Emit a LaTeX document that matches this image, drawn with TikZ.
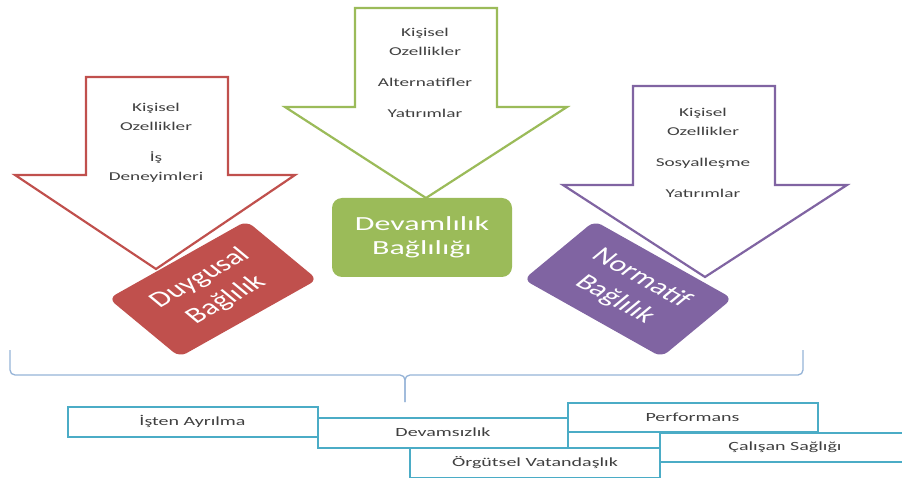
\documentclass[tikz,border=0pt]{standalone}
\usepackage{fontspec}
\setmainfont[FakeStretch=1.6]{Carlito}
\newfontfamily\plainfont{Carlito}
\usetikzlibrary{positioning}

\definecolor{duyred}{HTML}{C0504D}
\definecolor{devgreen}{HTML}{9BBB59}
\definecolor{normpurple}{HTML}{8064A2}
\definecolor{outcyan}{HTML}{4BACC6}
\definecolor{bracecol}{HTML}{95B3D7}
\definecolor{textgray}{HTML}{404040}

\tikzset{
  arrowshape/.style={line width=2.2pt, fill=white, line join=miter},
  arrowtext/.style={align=center, text=textgray, font=\fontsize{12}{19}\selectfont},
  bigbox/.style={rounded corners=10pt, text=white, align=center, inner sep=0pt,
    font=\fontsize{20}{24}\selectfont},
  tiltbox/.style={rounded corners=8pt, text=white, align=center, inner sep=0pt,
    minimum width=122pt, minimum height=76pt, transform shape,
    font=\plainfont\fontsize{22}{28}\selectfont},
  outbox/.style={draw=outcyan, line width=2pt, fill=white, minimum width=250pt,
    minimum height=30pt, inner sep=0pt, text=textgray, font=\fontsize{12.5}{15}\selectfont},
  bracket/.style={draw=bracecol, line width=1.3pt, rounded corners=5pt}
}

\begin{document}
\begin{tikzpicture}[x=1pt,y=1pt]
\clip (0,0) rectangle (902,477);

% --- Arrows ---

% Red arrow (left)
\draw[arrowshape, draw=duyred] (86,400) -- (228,400) -- (228,302) -- (295,302)
  -- (156,208) -- (15,302) -- (86,302) -- cycle;
\node[arrowtext] (redtext) at (156,334) {Kişisel\\Ozellikler\\[12pt]İş\\Deneyimleri};

% Green arrow (middle)
\draw[arrowshape, draw=devgreen] (355,469) -- (497,469) -- (497,370) -- (567,370)
  -- (426,279) -- (285,370) -- (355,370) -- cycle;
\node[arrowtext] (greentext) at (425,404) {Kişisel\\Ozellikler\\[12pt]Alternatifler\\[12pt]Yatırımlar};

% Purple arrow (right)
\draw[arrowshape, draw=normpurple] (633,391) -- (775,391) -- (775,292) -- (847,292)
  -- (705,200) -- (563,292) -- (633,292) -- cycle;
\node[arrowtext] (purpletext) at (703,324) {Kişisel\\Ozellikler\\[12pt]Sosyalleşme\\[12pt]Yatırımlar};

% --- Commitment boxes (tilted ones are stretched sideways like the rest) ---
\begin{scope}[shift={(213,188)}, xscale=1.466]
  \node[tiltbox, fill=duyred, rotate=39.5] (duygusal) at (0,0) {Duygusal\\Bağlılık};
\end{scope}
\node[bigbox, fill=devgreen, minimum width=180pt, minimum height=79pt]
  (devamlilik) at (422,239.5) {Devamlılık\\Bağlılığı};
\begin{scope}[shift={(628,188)}, xscale=1.466]
  \node[tiltbox, fill=normpurple, rotate=-39.5] (normatif) at (0,0) {Normatif\\Bağlılık};
\end{scope}

% --- Brace ---
\coordinate (brace left) at (10,127);
\coordinate (brace right) at (803,127);
\coordinate (brace mid) at (405,102);
\coordinate (brace tip) at (405,75);
\draw[bracket] (brace left) |- (brace mid) -- (brace tip);
\draw[bracket] (brace right) |- (brace mid) -- (brace tip);

% --- Outcomes ---
\node[outbox] (isten) at (192.5,55.5) {İşten Ayrılma};
\node[outbox] (devamsiz) at (443,44.5) {Devamsızlık};
\node[outbox] (vatandas) at (535,14) {Örgütsel Vatandaşlık};
\node[outbox, minimum height=29pt] (perf) at (692.5,59.5) {Performans};
\node[outbox, minimum height=29pt] (saglik) at (785,29.5) {Çalışan Sağlığı};

\end{tikzpicture}
\end{document}
